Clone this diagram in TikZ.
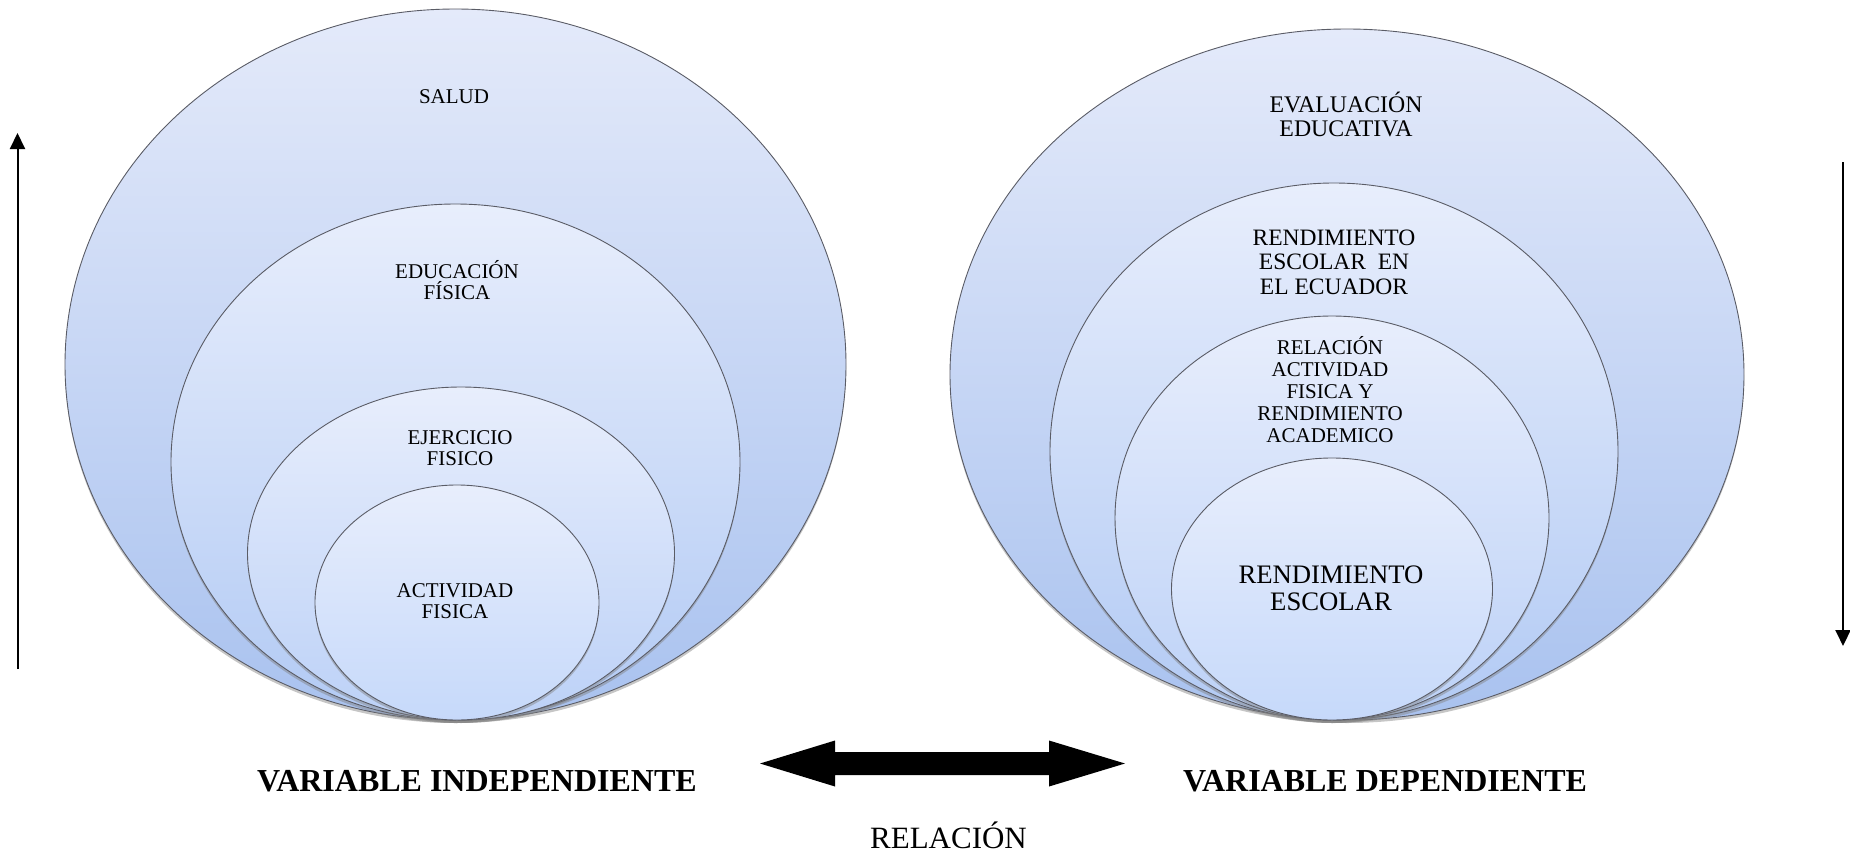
\documentclass[tikz,border=0pt]{standalone}
\usepackage{fontspec}
\setmainfont{Liberation Serif}
\usetikzlibrary{shapes.geometric,arrows.meta,shadows}
\definecolor{topc}{HTML}{E4EAFA}
\definecolor{topi}{HTML}{E8EEFC}
\definecolor{botA}{HTML}{A9C2EF}
\definecolor{botB}{HTML}{B2CAF4}
\definecolor{botC}{HTML}{BCD1F7}
\definecolor{botD}{HTML}{C6D9FA}
\definecolor{edgec}{HTML}{5A5C66}
\tikzset{
  ell/.style={ellipse, draw=edgec, line width=0.9pt, top color=topi, inner sep=0pt,
     drop shadow={shadow xshift=0pt, shadow yshift=-3pt, opacity=0.45}},
  lab/.style={align=center, inner sep=0pt, text=black},
  vline/.style={line width=2pt, -{Triangle[width=15pt,length=16pt]}},
}
\begin{document}
\begin{tikzpicture}[x=1pt,y=-1pt]
\useasboundingbox (0,0) rectangle (1850,854);
% left set
\node[ell, top color=topc, bottom color=botA, minimum width=781pt, minimum height=711pt] (l1) at (455.5,364.5) {};
\node[ell, bottom color=botB, minimum width=569pt, minimum height=516pt] (l2) at (455.5,462) {};
\node[ell, bottom color=botC, minimum width=427pt, minimum height=333pt] (l3) at (461,553.5) {};
\node[ell, bottom color=botD, minimum width=284pt, minimum height=235pt] (l4) at (457,602.5) {};
\node[lab, font=\fontsize{21}{21}\selectfont] (t1) at (454,97) {SALUD};
\node[lab, font=\fontsize{21}{21}\selectfont] (t2) at (457,280.5) {EDUCACIÓN\\FÍSICA};
\node[lab, font=\fontsize{21}{21}\selectfont] (t3) at (460,448.5) {EJERCICIO\\FISICO};
\node[lab, font=\fontsize{21}{21}\selectfont] (t4) at (455,601) {ACTIVIDAD\\FISICA};
% right set
\node[ell, top color=topc, bottom color=botA, minimum width=794pt, minimum height=691pt] (r1) at (1347,374.5) {};
\node[ell, bottom color=botB, minimum width=568pt, minimum height=537pt] (r2) at (1334,451.5) {};
\node[ell, bottom color=botC, minimum width=434pt, minimum height=404pt] (r3) at (1332,518) {};
\node[ell, bottom color=botD, minimum width=321pt, minimum height=262pt] (r4) at (1332,589) {};
\node[lab, font=\fontsize{23.8}{23.5}\selectfont] (s1) at (1346,114.5) {EVALUACIÓN\\EDUCATIVA};
\node[lab, font=\fontsize{23.5}{24.5}\selectfont] (s2) at (1334,262) {RENDIMIENTO\\ESCOLAR\ \ EN\\EL ECUADOR};
\node[lab, font=\fontsize{21}{21.8}\selectfont] (s3) at (1330,389.5) {RELACIÓN\\ACTIVIDAD\\FISICA Y\\RENDIMIENTO\\ACADEMICO};
\node[lab, font=\fontsize{26.7}{27}\selectfont] (s4) at (1331,588.5) {RENDIMIENTO\\ESCOLAR};
% captions
\node[lab, font=\bfseries\fontsize{32}{32}\selectfont] (vi) at (477,781) {VARIABLE INDEPENDIENTE};
\node[lab, font=\bfseries\fontsize{32}{32}\selectfont] (vd) at (1385,781) {VARIABLE DEPENDIENTE};
\node[lab, font=\fontsize{31}{31}\selectfont] (rel) at (948.5,835) {RELACIÓN};
% double arrow
\fill[black] (760,763.5) -- (835,740.5) -- (835,752) -- (1049,752) -- (1049,740.5) -- (1125,763.5)
  -- (1049,786.5) -- (1049,775) -- (835,775) -- (835,786.5) -- cycle;
% vertical arrows
\coordinate (la0) at (17.5,669);
\coordinate (la1) at (17.5,133);
\coordinate (ra0) at (1843,162);
\coordinate (ra1) at (1843,646);
\draw[vline] (la0) -- (la1);
\draw[vline] (ra0) -- (ra1);
\end{tikzpicture}
\end{document}
